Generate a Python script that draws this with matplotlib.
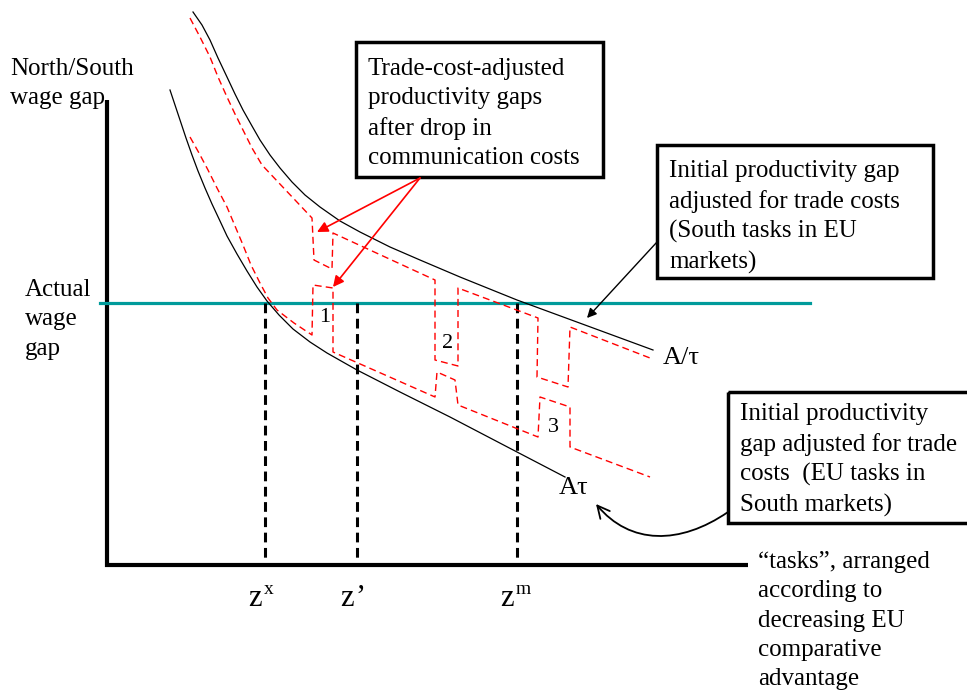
import numpy as np
import matplotlib
matplotlib.use("Agg")
import matplotlib.pyplot as plt
from matplotlib.patches import FancyArrowPatch, Rectangle
from matplotlib.path import Path

plt.rcParams['font.family'] = ['Liberation Serif', 'DejaVu Serif']
plt.rcParams['lines.scale_dashes'] = False

# ---- diagram data (pixel space of the original sketch, y grows downward) ----
# A/tau curve (initial gap, South tasks in EU markets)
upper_x = [193, 202, 210, 218, 227, 235, 243, 252, 260, 270, 280, 292, 305, 320,
           340, 360, 390, 420, 460, 517, 585, 653]
upper_y = [12, 25, 40, 58, 77, 94, 110, 126, 140, 155, 168, 182, 195, 207,
           221, 232, 247, 260, 277, 300, 325, 350]
# A*tau curve (initial gap, EU tasks in South markets)
lower_x = [170, 175, 180, 186, 192, 198, 205, 212, 220, 227, 237, 247, 257, 267,
           279, 293, 310, 327, 357, 400, 450, 517, 565]
lower_y = [90, 105, 120, 138, 155, 171, 188, 204, 221, 236, 254, 271, 287, 301,
           315, 329, 342, 353, 370, 392, 417, 452, 477]
# red dashed, after drop in communication costs
red_up_x = [190, 200, 210, 218, 227, 235, 243, 252, 262, 312, 314, 332, 333, 435,
            435, 458, 458, 538, 537, 568, 570, 650]
red_up_y = [18, 37, 57, 77, 97, 114, 130, 148, 165, 218, 260, 269, 233, 280,
            360, 366, 288, 318, 377, 387, 327, 358]
red_lo_x = [190, 199, 208, 217, 227, 235, 243, 251, 260, 268, 277, 294, 312, 313,
            333, 333, 435, 437, 455, 458, 538, 540, 570, 570, 650]
red_lo_y = [137, 153, 170, 188, 207, 226, 245, 265, 283, 298, 310, 323, 335, 285,
            288, 352, 397, 372, 380, 405, 437, 397, 407, 447, 477]

wage_gap = 303
cutoffs = [265, 357, 517]
cutoff_names = ['x', '’', 'm']
region_labels = ['1', '2', '3']
region_x = [325, 448, 553]
region_y = [318, 343, 428]

fig = plt.figure(figsize=(9.67, 6.95), dpi=100)
ax = fig.add_axes([0, 0, 1, 1])
ax.set_xlim(0, 967)
ax.set_ylim(695, 0)
ax.axis('off')

# axes of the diagram
ax.plot([107, 107], [100, 567], color='black', lw=3.0, solid_capstyle='butt')
ax.plot([105, 748], [565, 565], color='black', lw=3.0, solid_capstyle='butt')

# actual wage gap
ax.plot([100, 810], [wage_gap, wage_gap], color='#009b9b', lw=2.3)

# cut-off tasks
for xc in cutoffs:
    ax.plot([xc, xc], [wage_gap, 565], color='black', lw=2.2,
            linestyle=(0, (7, 4)))

# curves
ax.plot(upper_x, upper_y, color='black', lw=0.9)
ax.plot(lower_x, lower_y, color='black', lw=0.9)
ax.plot(red_up_x, red_up_y, color='red', lw=1.0, linestyle=(0, (5, 3)))
ax.plot(red_lo_x, red_lo_y, color='red', lw=1.0, linestyle=(0, (5, 3)))

for lab, xx, yy in zip(region_labels, region_x, region_y):
    ax.text(xx, yy, lab, fontsize=16, ha='center', va='center')

ax.text(663, 358, 'A/τ', fontsize=19, ha='left', va='center')
ax.text(559, 488, 'Aτ', fontsize=19, ha='left', va='center')

# z labels
for xc, sup in zip(cutoffs, cutoff_names):
    ax.text(xc - 17, 606, 'z', fontsize=22, ha='left', va='baseline')
    if sup == '’':
        ax.text(xc - 2, 606, sup, fontsize=22, ha='left', va='baseline')
    else:
        ax.text(xc - 1, 594, sup, fontsize=14, ha='left', va='baseline')

# text boxes
txt = dict(fontsize=18, ha='left', va='top', linespacing=1.43)
ax.add_patch(Rectangle((356, 42), 247, 135, fill=False, lw=2.5, ec='black'))
ax.text(368, 58, 'Trade-cost-adjusted\nproductivity gaps\nafter drop in\ncommunication costs', **txt)

ax.add_patch(Rectangle((657, 145), 276, 133, fill=False, lw=2.5, ec='black'))
ax.text(669, 160, 'Initial productivity gap\nadjusted for trade costs\n(South tasks in EU\nmarkets)', **txt)

ax.add_patch(Rectangle((728, 392), 260, 131, fill=False, lw=2.5, ec='black'))
ax.text(740, 403, 'Initial productivity\ngap adjusted for trade\ncosts  (EU tasks in\nSouth markets)', **txt)

ax.text(10, 58, 'North/South\nwage gap', **txt)
ax.text(25, 279, 'Actual\nwage\ngap', **txt)
ax.text(758, 551, '“tasks”, arranged\naccording to\ndecreasing EU\ncomparative\nadvantage', **txt)

# arrows
for tip in [(317, 232), (333, 287)]:
    ax.annotate('', xy=tip, xytext=(420, 178),
                arrowprops=dict(arrowstyle='-|>', color='red', lw=1.2,
                                mutation_scale=16, shrinkA=0, shrinkB=0))
ax.annotate('', xy=(587, 318), xytext=(657, 242),
            arrowprops=dict(arrowstyle='-|>', color='black', lw=1.0,
                            mutation_scale=14, shrinkA=0, shrinkB=0))

curve = Path([(728, 512), (680, 545), (630, 545), (596, 504)],
             [Path.MOVETO, Path.CURVE4, Path.CURVE4, Path.CURVE4])
ax.add_patch(FancyArrowPatch(path=curve, arrowstyle='->', mutation_scale=22,
                             lw=1.3, color='black'))

fig.savefig('out.png', dpi=100)
